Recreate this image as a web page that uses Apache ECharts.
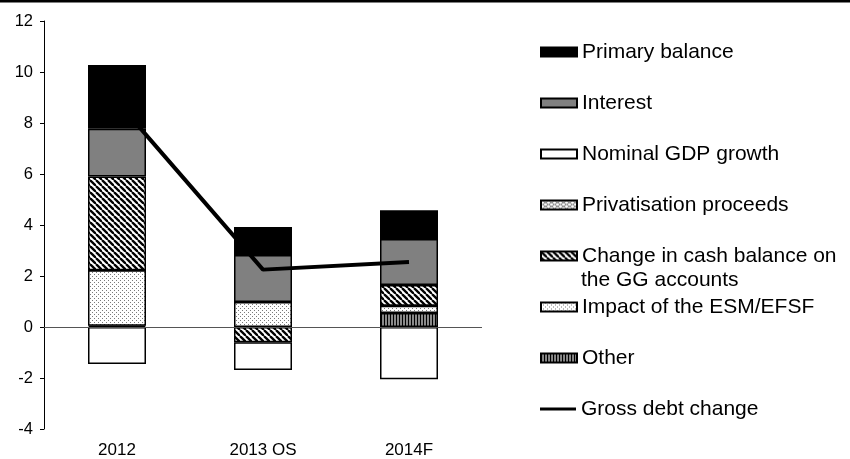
<!DOCTYPE html>
<html>
<head>
<meta charset="utf-8">
<script src="https://cdn.jsdelivr.net/npm/echarts@6/dist/echarts.min.js"></script>
<style>
  html, body { margin: 0; padding: 0; background: #fff; }
  #chart { width: 850px; height: 459px; }
</style>
</head>
<body>
<div id="chart"></div>
<script>
// Debt dynamics decomposition (percentage points)
const categories = ['2012', '2013 OS', '2014F'];
const primaryBalance = [2.50, 1.10, 1.13];
const interest = [1.87, 1.84, 1.80];
const nominalGdpGrowth = [-1.45, -1.09, -2.05];
const privatisationProceeds = [0, 0, 0];
const cashBalanceChange = [3.67, -0.60, 0.82];
const esmEfsfImpact = [2.18, 0.98, 0.28];
const other = [0.05, 0, 0.55];
const grossDebtChange = [8.85, 2.25, 2.55];
const yTicks = { min: -4, max: 12, interval: 2 };

const FONT = '"Liberation Sans", Arial, sans-serif';

// Fill patterns for the hatched bars
function makeTile(w, h, draw) {
  const c = document.createElement('canvas');
  c.width = w; c.height = h;
  const ctx = c.getContext('2d');
  ctx.fillStyle = '#fff';
  ctx.fillRect(0, 0, w, h);
  draw(ctx);
  return { image: c, repeat: 'repeat' };
}

const diagPattern = makeTile(6, 6, ctx => {
  ctx.strokeStyle = '#000';
  ctx.lineWidth = 2.3;
  for (const k of [-6, 0, 6]) {
    ctx.beginPath();
    ctx.moveTo(k, 0);
    ctx.lineTo(k + 6, 6);
    ctx.stroke();
  }
});

const dotPattern = makeTile(4, 4, ctx => {
  ctx.fillStyle = '#7a7a7a';
  ctx.fillRect(0, 0, 1, 1);
  ctx.fillRect(2, 2, 1, 1);
});

const stripePattern = makeTile(3, 3, ctx => {
  ctx.fillStyle = '#8a8a8a';
  ctx.fillRect(0, 0, 3, 3);
  ctx.fillStyle = '#000';
  ctx.fillRect(0, 0, 1, 3);
});

const wavePattern = makeTile(6, 4, ctx => {
  ctx.strokeStyle = '#555';
  ctx.lineWidth = 0.8;
  ctx.beginPath();
  ctx.moveTo(0, 1); ctx.lineTo(1.5, 0); ctx.lineTo(3, 1); ctx.lineTo(4.5, 2); ctx.lineTo(6, 1);
  ctx.moveTo(0, 3); ctx.lineTo(1.5, 4); ctx.lineTo(3, 3); ctx.lineTo(4.5, 2); ctx.lineTo(6, 3);
  ctx.stroke();
});

const NAMES = {
  primary: 'Primary balance',
  interest: 'Interest',
  gdp: 'Nominal GDP growth',
  priv: 'Privatisation proceeds',
  cash: 'Change in cash balance on the GG accounts',
  esm: 'Impact of the ESM/EFSF',
  other: 'Other',
  gross: 'Gross debt change'
};

function barSeries(name, data, fill) {
  return {
    name, type: 'bar', stack: 'total', data,
    barWidth: 58,
    itemStyle: { color: fill, borderColor: '#000', borderWidth: 1.5 },
    emphasis: { disabled: true },
    animation: false
  };
}

function legendItem(name, centerY, extra) {
  return Object.assign({
    data: [name],
    left: 540,
    top: centerY - 12,
    orient: 'vertical',
    padding: 0,
    icon: 'rect',
    itemWidth: 36,
    itemHeight: 9,
    itemGap: 0,
    selectedMode: false,
    textStyle: { fontFamily: FONT, fontSize: 21, color: '#000', lineHeight: 24 }
  }, extra || {});
}

const chart = echarts.init(document.getElementById('chart'), null, { renderer: 'canvas' });

chart.setOption({
  backgroundColor: '#fff',
  animation: false,
  textStyle: { fontFamily: FONT },
  grid: { left: 44, right: 368, top: 21, bottom: 27, containLabel: false },
  xAxis: {
    type: 'category',
    data: categories,
    axisLine: { show: false },
    axisTick: { show: false },
    axisLabel: { fontFamily: FONT, fontSize: 17, color: '#000', margin: 13 }
  },
  yAxis: {
    type: 'value',
    min: yTicks.min, max: yTicks.max, interval: yTicks.interval,
    axisLine: { show: true, lineStyle: { color: '#000', width: 1 } },
    axisTick: { show: true, length: 4, lineStyle: { color: '#000' } },
    splitLine: { show: false },
    axisLabel: { fontFamily: FONT, fontSize: 16.5, color: '#000', margin: 11 }
  },
  legend: [
    legendItem(NAMES.primary, 52),
    legendItem(NAMES.interest, 103),
    legendItem(NAMES.gdp, 154),
    legendItem(NAMES.priv, 205),
    legendItem(NAMES.cash, 256, { formatter: () => 'Change in cash balance on' }),
    legendItem(NAMES.esm, 307),
    legendItem(NAMES.other, 358),
    legendItem(NAMES.gross, 409, { itemHeight: 3, itemStyle: { borderWidth: 0 } })
  ],
  graphic: [
    { type: 'rect', left: 0, top: 0, shape: { width: 850, height: 2.5 }, style: { fill: '#000' }, silent: true },
    { type: 'text', left: 581, top: 270, style: { text: 'the GG accounts', font: '21px ' + FONT, fill: '#000' }, silent: true }
  ],
  series: [
    Object.assign(barSeries(NAMES.other, other, stripePattern), {
      markLine: {
        silent: true, symbol: 'none',
        label: { show: false },
        lineStyle: { color: '#555', width: 1, type: 'solid' },
        data: [{ yAxis: 0 }]
      }
    }),
    barSeries(NAMES.esm, esmEfsfImpact, dotPattern),
    barSeries(NAMES.priv, privatisationProceeds, wavePattern),
    barSeries(NAMES.cash, cashBalanceChange, diagPattern),
    barSeries(NAMES.gdp, nominalGdpGrowth, '#fff'),
    barSeries(NAMES.interest, interest, '#808080'),
    barSeries(NAMES.primary, primaryBalance, '#000'),
    {
      name: NAMES.gross, type: 'line', data: grossDebtChange,
      symbol: 'none', z: 5,
      lineStyle: { color: '#000', width: 4 },
      itemStyle: { color: '#000' },
      emphasis: { disabled: true },
      animation: false
    }
  ]
});
</script>
</body>
</html>
